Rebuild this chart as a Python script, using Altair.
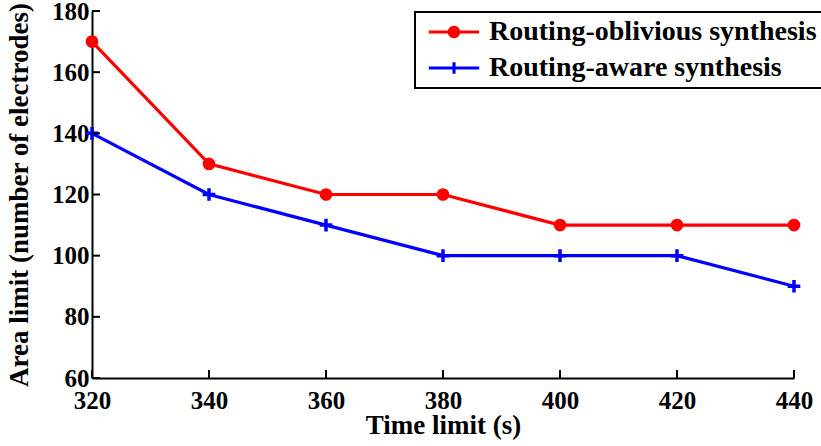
import altair as alt
import pandas as pd

time_limits = [320, 340, 360, 380, 400, 420, 440]
oblivious = [170, 130, 120, 120, 110, 110, 110]
aware = [140, 120, 110, 100, 100, 100, 90]
series = ["Routing-oblivious synthesis", "Routing-aware synthesis"]
colors = ["#ff0000", "#0000ff"]
x_ticks = [320, 340, 360, 380, 400, 420, 440]
y_ticks = [60, 80, 100, 120, 140, 160, 180]

rows = []
for t, v in zip(time_limits, oblivious):
    rows.append({"t": t, "v": v, "s": series[0]})
for t, v in zip(time_limits, aware):
    rows.append({"t": t, "v": v, "s": series[1]})
df = pd.DataFrame(rows)

W, H = 702, 367
FONT = "Liberation Serif"

xscale = alt.Scale(domain=[320, 440], nice=False, zero=False)
yscale = alt.Scale(domain=[60, 180], nice=False, zero=False)

xaxis = alt.Axis(values=x_ticks, title="Time limit (s)", format="d", grid=False,
                 tickSize=0, labelPadding=10, titleY=34, titleBaseline="top",
                 labelFlush=False, labelOverlap=False)
yaxis = alt.Axis(values=y_ticks, title="Area limit (number of electrodes)", format="d",
                 grid=False, tickSize=0, labelPadding=3, titleX=-59, titleY=H / 2,
                 labelFlush=False, labelOverlap=False)

# legend glyphs: line segment + marker, as filled paths
path_red = ("M-2.1,-0.125H2.1V0.125H-2.1Z "
            "M-0.52,0A0.52,0.52 0 1,1 0.52,0A0.52,0.52 0 1,1 -0.52,0Z")
path_blue = ("M-2.1,-0.125H2.1V0.125H-2.1Z "
             "M-0.13,-0.48H0.13V0.48H-0.13Z")

legend = alt.Legend(
    title=None, orient="none", legendX=323, legendY=1,
    fillColor="white", padding=6,
    symbolSize=576, symbolOffset=19, labelOffset=21, rowPadding=8,
    symbolOpacity=1, symbolStrokeWidth=0,
    labelFont=FONT, labelFontSize=28, labelFontWeight="bold", labelColor="black",
    labelLimit=600,
)

base = alt.Chart(df)
X = alt.X("t:Q", scale=xscale, axis=xaxis)
Y = alt.Y("v:Q", scale=yscale, axis=yaxis)

red_line = base.transform_filter(alt.datum.s == series[0]).mark_line(
    strokeWidth=3.2, color=colors[0]).encode(x=X, y=Y)
blue_line = base.transform_filter(alt.datum.s == series[1]).mark_line(
    strokeWidth=3.2, color=colors[1]).encode(x=X, y=Y)
red_pts = base.transform_filter(alt.datum.s == series[0]).mark_point(
    shape="circle", filled=True, size=160, color=colors[0], opacity=1
).encode(x=X, y=Y)
blue_pts = base.transform_filter(alt.datum.s == series[1]).mark_point(
    shape="M-1,0H1M0,-1V1", filled=False, size=160, color=colors[1], strokeWidth=3.5, opacity=1
).encode(x=X, y=Y)

legend_layer = base.mark_point(filled=True, opacity=0).encode(
    x=X, y=Y,
    color=alt.Color("s:N", scale=alt.Scale(domain=series, range=colors), legend=legend),
    shape=alt.Shape("s:N", scale=alt.Scale(domain=series, range=[path_red, path_blue]), legend=legend),
)

xt = pd.DataFrame({"t": x_ticks})
yt = pd.DataFrame({"v": y_ticks})
xtick_rules = alt.Chart(xt).mark_rule(color="black", strokeWidth=2).encode(
    x=X, y=alt.value(H), y2=alt.value(H - 8))
ytick_rules = alt.Chart(yt).mark_rule(color="black", strokeWidth=2).encode(
    y=Y, x=alt.value(0), x2=alt.value(8))

chart = alt.layer(red_line, blue_line, red_pts, blue_pts, legend_layer,
                  xtick_rules, ytick_rules).properties(
    width=W, height=H,
    autosize=alt.AutoSizeParams(type="none"),
    padding={"left": 92, "top": 11, "right": 821 - 92 - W, "bottom": 446 - 11 - H},
).configure(background="white").configure_view(strokeWidth=0).configure_legend(
    strokeColor="black", strokeWidth=2
).configure_axis(
    labelFont=FONT, labelFontSize=25, labelFontWeight="bold", labelColor="black",
    titleFont=FONT, titleFontSize=27, titleFontWeight="bold", titleColor="black",
    domainColor="black", domainWidth=2,
)

chart.save("out.html", embed_options={"renderer": "svg", "actions": False})
